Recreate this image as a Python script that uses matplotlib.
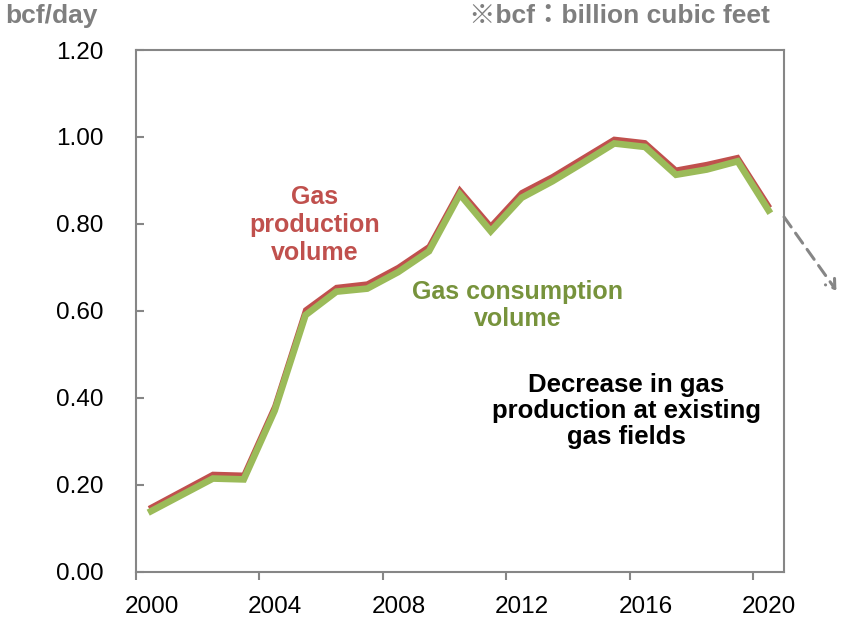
import matplotlib
matplotlib.use("Agg")
import matplotlib.pyplot as plt
from matplotlib.transforms import ScaledTranslation

years = [2000.5, 2002.5, 2003.5, 2004.5, 2005.5, 2006.5, 2007.5, 2008.5, 2009.5,
         2010.5, 2011.5, 2012.5, 2013.5, 2014.5, 2015.5, 2016.5, 2017.5, 2018.5,
         2019.5, 2020.5]
production = [0.148, 0.224, 0.222, 0.380, 0.602, 0.654, 0.662, 0.700, 0.748,
              0.878, 0.795, 0.872, 0.909, 0.952, 0.995, 0.987, 0.924, 0.937,
              0.953, 0.842]
consumption = [0.139, 0.214, 0.212, 0.370, 0.590, 0.644, 0.651, 0.689, 0.737,
               0.868, 0.783, 0.860, 0.898, 0.941, 0.985, 0.977, 0.913, 0.925,
               0.944, 0.831]
xticks = [2000, 2004, 2008, 2012, 2016, 2020]
yticks = [0.0, 0.2, 0.4, 0.6, 0.8, 1.0, 1.2]

RED = "#C0504D"
GREEN = "#9BBB59"
GREEN_TXT = "#77933C"
GRAY = "#868686"

fig = plt.figure(figsize=(8.43, 6.19), dpi=100)
ax = fig.add_axes([0.161, 0.0767, 0.769, 0.8425])

ax.plot(years, production, color=RED, lw=3.6, solid_joinstyle="miter", zorder=2)
ax.plot(years, consumption, color=GREEN, lw=4.8, solid_joinstyle="miter", zorder=3)

ax.set_xlim(2000, 2021)
ax.set_ylim(0, 1.2)
ax.set_xticks(xticks)
ax.set_xticklabels([str(x) for x in xticks])
ax.set_yticks(yticks)
ax.set_yticklabels([f"{v:.2f}" for v in yticks])

for s in ax.spines.values():
    s.set_color(GRAY)
    s.set_linewidth(1.5)
ax.tick_params(axis="both", colors=GRAY, width=1.5,
               labelcolor="black", labelsize=17.5)
ax.tick_params(axis="x", direction="out", length=6, pad=11.5)
ax.tick_params(axis="y", direction="in", length=6, pad=23)
offset = ScaledTranslation(16 / 100, 0, fig.dpi_scale_trans)
for lab in ax.get_xticklabels():
    lab.set_fontfamily("Liberation Sans")
    lab.set_transform(lab.get_transform() + offset)
for lab in ax.get_yticklabels():
    lab.set_fontfamily("Liberation Sans")

fam = ["Liberation Sans", "Noto Sans CJK JP", "DejaVu Sans"]
fig.text(5 / 843, 1 - 16 / 619, "bcf/day", color="#7F7F7F", fontsize=19,
         fontweight="bold", family=fam, ha="left", va="center")
fig.text(770 / 843, 1 - 16 / 619, "※bcf：billion cubic feet", color="#7F7F7F",
         fontsize=19, fontweight="bold", family=fam, ha="right", va="center")

ax.text(2005.8, 0.798, "Gas\nproduction\nvolume", color=RED, fontsize=18,
        fontweight="bold", family=fam, ha="center", va="center", linespacing=1.2)
ax.text(2012.38, 0.612, "Gas consumption\nvolume", color=GREEN_TXT, fontsize=18,
        fontweight="bold", family=fam, ha="center", va="center", linespacing=1.2)
ax.text(2015.9, 0.370, "Decrease in gas\nproduction at existing\ngas fields",
        color="black", fontsize=18.5, fontweight="bold", family=fam,
        ha="center", va="center", linespacing=1.1)

ax.annotate("", xy=(2022.75, 0.641), xytext=(2020.95, 0.821),
            arrowprops=dict(arrowstyle="->,head_length=0.6,head_width=0.4",
                            color=GRAY, lw=2.2, linestyle=(0, (4, 2.5))),
            annotation_clip=False)

fig.savefig("out.png", dpi=100)
